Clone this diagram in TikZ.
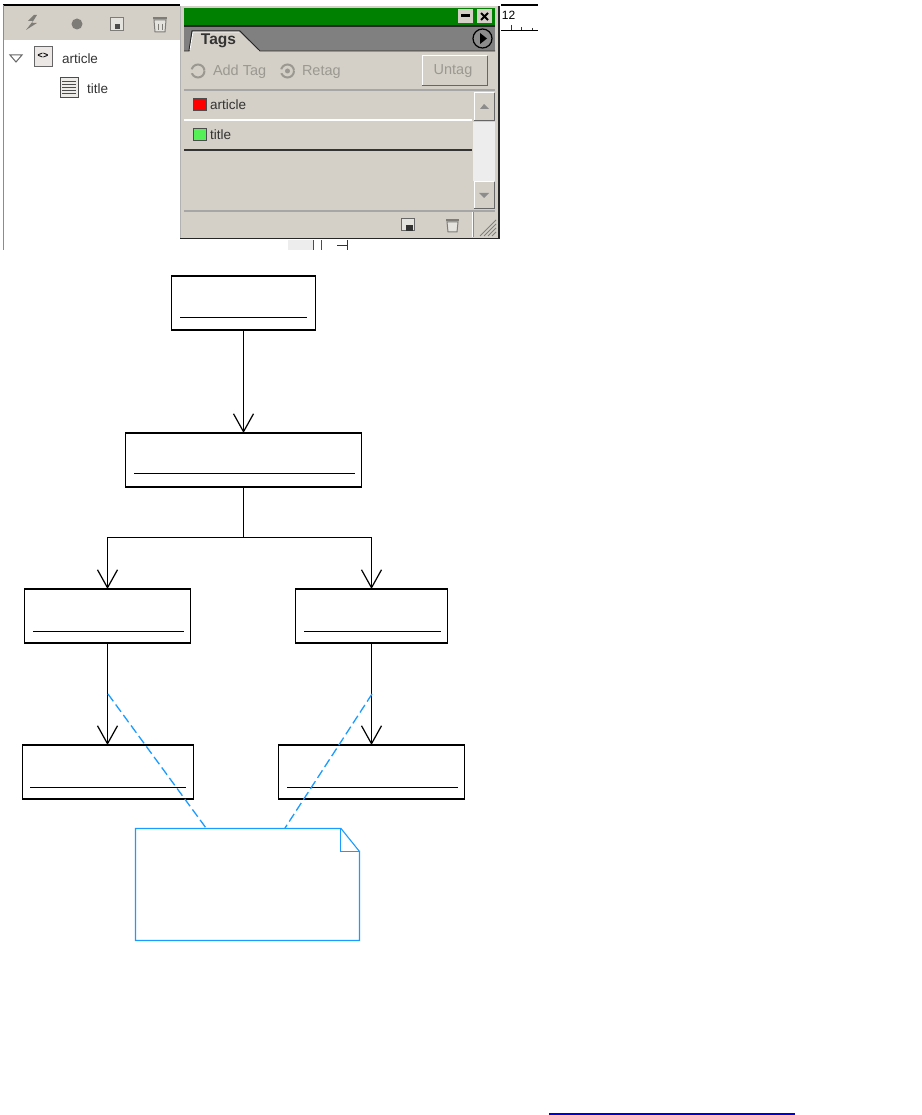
\documentclass[tikz,border=0pt]{standalone}
\usepackage{fontspec}
\setmainfont{Liberation Sans}
\definecolor{panel}{HTML}{D4D0C8}
\definecolor{notec}{HTML}{1A9BFF}
\definecolor{greenbar}{HTML}{008000}
\definecolor{dis}{HTML}{9A9890}
\definecolor{ico}{HTML}{7E7C76}
\definecolor{tagg}{HTML}{55F055}
\usetikzlibrary{arrows.meta}
\tikzset{
  x=1pt,y=-1pt,
  umlbox/.style={draw=black,line width=1.2pt,fill=white,minimum height=54pt,inner sep=0pt,outer sep=0pt},
  under/.style={draw=black,line width=1pt},
  conn/.style={draw=black,line width=1pt},
  flow/.style={conn,-{Straight Barb[length=18pt,width=20pt,line width=1.2pt]}},
  notelink/.style={draw=notec,line width=1.3pt,dash pattern=on 9pt off 4pt},
  noteedge/.style={draw=notec,line width=1.1pt},
  lbl/.style={inner sep=0pt,outer sep=0pt,font=\fontsize{13.5}{15}\selectfont,text=black!80},
  dislbl/.style={inner sep=0pt,outer sep=0pt,font=\fontsize{14.5}{16}\selectfont,text=dis},
}
\begin{document}
\begin{tikzpicture}
\useasboundingbox (0,0) rectangle (921,1115);
% --- left structure pane
\fill[panel] (4,6) rectangle (180,40);
\draw[black,line width=1.4pt] (3,5) -- (180,5);
\draw[black!45,line width=1pt] (3.5,5) -- (3.5,250);
\fill[ico] (34,15) -- (28,21) -- (33,21) -- (26,30) -- (37,23) -- (32,23) -- (37,15) -- cycle;
\fill[ico] (77,24) circle (5.5);
\draw[ico,line width=1pt,fill=panel!60] (110,18) rectangle (123,31);
\fill[black!70] (115,24) rectangle (120,29);
\draw[ico,line width=1pt,fill=panel!60] (154,20) -- (155,32) -- (165,32) -- (166,20) -- cycle;
\draw[ico,line width=1.4pt] (153,18) -- (167,18);
\draw[ico,line width=1pt] (158,24) -- (158,30) (162,24) -- (162,30);
\draw[black!60,line width=1pt,fill=white] (10,55) -- (22,55) -- (16,62) -- cycle;
\draw[black!60,line width=1pt,fill=panel!50] (34,47) rectangle (52,67);
\node[font=\fontsize{9}{9}\bfseries\selectfont,inner sep=0pt] (iconart) at (43,56) {<>};
\node[lbl,anchor=west] (art) at (62,59) {article};
\draw[black!70,line width=1pt,fill=panel!40] (60,78) rectangle (78,98);
\foreach \yy in {82,85,88,91,94} \draw[black!70,line width=1pt] (62,\yy) -- (76,\yy);
\node[lbl,anchor=west] (tit) at (87,89) {title};
% --- panel
\fill[panel] (180,6) rectangle (498,238);
\fill[greenbar] (184,8) rectangle (495,25);
\draw[black!85,line width=1.4pt] (184,26) -- (495,26);
\fill[black!50] (184,27) rectangle (495,50);
\draw[black!85,line width=1pt] (184,51) -- (189,51) -- (192,31) -- (240,31) -- (260,51) -- (495,51);
\fill[panel] (190,51) -- (193,32) -- (239.5,32) -- (259,51) -- cycle;
\draw[white,line width=0.8pt] (190,50) -- (193,32) -- (239,32);
\node[inner sep=0pt,font=\fontsize{15.5}{17}\bfseries\selectfont,text=black!80] (tags) at (218.5,41) {Tags};
\draw[black,line width=1.2pt,fill=black!45] (482.5,38.5) circle (9.5);
\fill[black] (480,33) -- (487,38.5) -- (480,44) -- cycle;
\fill[panel] (458,9) rectangle (473,23);
\fill[black] (461,14) rectangle (470,17);
\fill[panel] (477,9) rectangle (492,23);
\draw[black,line width=1.8pt] (481,13) -- (488,20) (488,13) -- (481,20);
\draw[dis,line width=2pt,dash pattern=on 18pt off 4pt] (198,71) circle (6.5);
\node[dislbl,anchor=west] (addtag) at (213,72) {Add Tag};
\draw[dis,line width=2pt,dash pattern=on 18pt off 4pt] (287.5,71) circle (6.5);
\fill[dis] (287.5,71) circle (2.5);
\node[dislbl,anchor=west] (retag) at (302,72) {Retag};
\draw[white,line width=1pt,fill=panel] (422,85) |- (487,56);
\draw[black!60,line width=1.2pt] (422,85.5) -- (487.5,85.5) -- (487.5,56);
\node[dislbl] (untag) at (453,71) {Untag};
\draw[black!35,line width=1.4pt] (184,90) -- (495,90);
\draw[white,line width=1.4pt] (184,120) -- (472,120);
\draw[black!80,line width=1.2pt] (184,150) -- (472,150);
\draw[black!35,line width=1.2pt] (184,211) -- (495,211);
\fill[red] (193,99) rectangle (206,111);
\draw[black!70,line width=1pt] (193,99) rectangle (206,111);
\node[lbl,anchor=west] (artag) at (210,105) {article};
\fill[tagg] (193,129) rectangle (206,141);
\draw[black!70,line width=1pt] (193,129) rectangle (206,141);
\node[lbl,anchor=west] (titag) at (210,135) {title};
% scrollbar
\fill[black!7] (473,122) rectangle (495,181);
\draw[white,line width=1pt,fill=panel] (474,120) |- (494,93);
\draw[black!60,line width=1pt] (474,120.5) -- (494.5,120.5) -- (494.5,93);
\fill[black!45] (480,109) -- (484,104) -- (489,109) -- cycle;
\draw[white,line width=1pt,fill=panel] (474,208) |- (494,182);
\draw[black!60,line width=1pt] (474,208.5) -- (494.5,208.5) -- (494.5,182);
\fill[black!45] (479,193) -- (489,193) -- (484,198) -- cycle;
% footer
\draw[white,line width=0.8pt] (472.5,237) -- (472.5,212);
\draw[black!45,line width=0.8pt] (473.5,237) -- (473.5,212);
\foreach \dd in {0,4,8,12} \draw[black!50,line width=0.8pt] (480+\dd,236) -- (496,220+\dd);
\draw[black!60,line width=1pt,fill=panel!60] (401,219) rectangle (414,231);
\fill[black!80] (406,225) rectangle (413,231);
\draw[ico,line width=1pt,fill=panel!60] (447,222) -- (448,232) -- (457,232) -- (458,222) -- cycle;
\draw[ico,line width=1.3pt] (446,220) -- (459,220);
% panel frame
\draw[black!85,line width=1.8pt] (180,238.5) -- (499,238.5) -- (499,6);
\draw[black!30,line width=1pt] (180.5,238) -- (180.5,6);
% --- bits behind
\fill[black!7] (288,240) rectangle (313,250);
\draw[black!70,line width=1.2pt] (313.5,240) -- (313.5,250) (321.5,240) -- (321.5,250);
\draw[black!80,line width=1pt] (337,245) -- (347,245) (347,240) -- (347,250);
% --- ruler
\draw[black,line width=1.2pt] (501,5) -- (538,5);
\draw[black,line width=0.9pt] (501,30.5) -- (538,30.5);
\draw[black!80,line width=0.8pt] (511,25) -- (511,30) (521,27) -- (521,30) (532,28) -- (532,30);
\node[inner sep=0pt,font=\fontsize{12}{13}\selectfont] (ruler) at (508.5,15) {12};
% --- boxes
\node[umlbox,minimum width=144pt] (a) at (243.5,303) {};
\node[umlbox,minimum width=236pt] (b) at (243.5,460) {};
\node[umlbox,minimum width=166pt] (c) at (107.5,616) {};
\node[umlbox,minimum width=152pt] (d) at (371.5,616) {};
\node[umlbox,minimum width=171pt] (e) at (108,772) {};
\node[umlbox,minimum width=186pt] (f) at (371.5,772) {};
\draw[under] (180,317) -- (307,317);
\draw[under] (134,473) -- (355,473);
\draw[under] (33,631) -- (184,631);
\draw[under] (304,631) -- (441,631);
\draw[under] (30,787) -- (186,787);
\draw[under] (287,787) -- (458,787);
% --- connectors
\coordinate (j) at (243.5,537);
\coordinate (jl) at (107.5,537);
\coordinate (jr) at (371.5,537);
\draw[flow] (a.south) -- (b.north);
\draw[conn] (b.south) -- (j);
\draw[flow] (j) -- (jl) -- (c.north);
\draw[flow] (j) -- (jr) -- (d.north);
\draw[flow] (c.south) -- (c.south |- e.north);
\draw[flow] (d.south) -- (f.north);
% --- note
\coordinate (nl) at (206,828);
\coordinate (nr) at (285,828);
\coordinate (ml) at (108,694);
\coordinate (mr) at (372,694);
\draw[notelink] (ml) -- (nl);
\draw[notelink] (mr) -- (nr);
\draw[noteedge] (135.5,828.5) -- (341,828.5) -- (359.5,851.5) -- (359.5,940.5) -- (135.5,940.5) -- cycle;
\draw[noteedge] (340.5,828.5) -- (340.5,851.5) -- (359.5,851.5);
% --- bottom link line
\coordinate (la) at (549,1114);
\coordinate (lb) at (795,1114);
\draw[blue!85!black,line width=1.2pt] (la) -- (lb);
\end{tikzpicture}
\end{document}
